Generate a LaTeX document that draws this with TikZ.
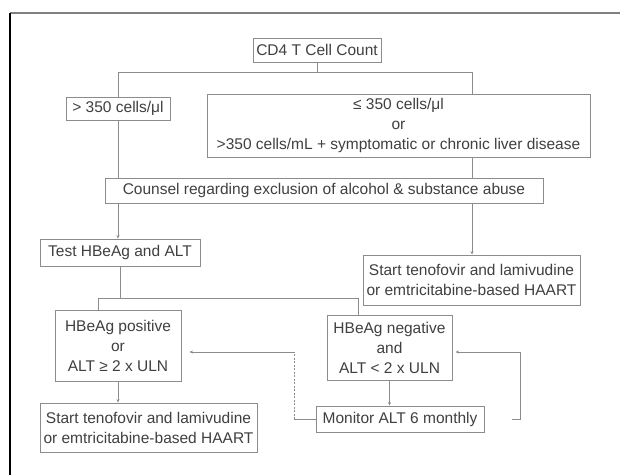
\documentclass[tikz,border=0pt]{standalone}
\usepackage{fontspec}
\setmainfont{Liberation Sans}
\usetikzlibrary{arrows.meta,calc}
\definecolor{linegray}{HTML}{8C8C8C}
\definecolor{txtgray}{HTML}{404040}
\begin{document}
\begin{tikzpicture}[x=1pt,y=-1pt,
  box/.style={draw=linegray,line width=0.9pt,inner sep=0pt,align=center,text=txtgray,font=\fontsize{15.5}{20}\selectfont},
  conn/.style={draw=linegray,line width=0.8pt},
  arr/.style={conn,-{Stealth[length=3.5pt,width=3pt]}},
  fb/.style={draw=linegray,line width=0.6pt},
  fbarr/.style={fb,-{Stealth[length=3.5pt,width=3pt]}}
]
\useasboundingbox (0,0) rectangle (620,475);
\fill[white] (0,0) rectangle (620,475);
\draw[line width=1.3pt, color=gray] (10,13) -- (620,13);
\draw[line width=1.3pt, black] (10,13) -- (10,475);

\coordinate (h1) at (0,72);
\coordinate (rc) at (472,0);
\coordinate (h2) at (0,298);
\coordinate (l2) at (98,0);
\coordinate (r2) at (358,0);
\coordinate (fy) at (0,352);
\coordinate (fl) at (294,0);
\coordinate (fr) at (520,0);

\node[box,minimum width=128,minimum height=24] (cd4) at (317,50) {CD4 T Cell Count};
\node[box,minimum width=104,minimum height=23] (gt) at (118,108.5) {> 350 cells/μl};
\node[box,minimum width=383,minimum height=63] (le) at (398.5,125.5) {≤ 350 cells/μl\\or\\>350 cells/mL + symptomatic or chronic liver disease};
\node[box,minimum width=438,minimum height=25] (cou) at (324,190.5) {Counsel regarding exclusion of alcohol \& substance abuse};
\node[box,minimum width=160,minimum height=27] (test) at (120,252.5) {Test HBeAg and ALT};
\node[box,minimum width=217,minimum height=50] (st1) at (471.5,280) {Start tenofovir and lamivudine\\or emtricitabine-based HAART};
\node[box,minimum width=126,minimum height=71] (pos) at (118,345.5) {HBeAg positive\\or\\ALT ≥ 2 x ULN};
\node[box,minimum width=125,minimum height=65] (neg) at (389.5,347.5) {HBeAg negative\\and\\ALT < 2 x ULN};
\node[box,minimum width=217,minimum height=49] (st2) at (148.5,427.5) {Start tenofovir and lamivudine\\or emtricitabine-based HAART};
\node[box,minimum width=168,minimum height=26] (mon) at (400,419) {Monitor ALT 6 monthly};

% top branch
\draw[conn] (cd4.south) -- (cd4.south |- h1);
\draw[conn] (gt.north) |- (rc |- h1) -- (rc |- le.north);
\draw[conn] (gt.south) -- (gt.south |- cou.north);
\draw[conn] (rc |- le.south) -- (rc |- cou.north);
\draw[arr] (gt.south |- cou.south) -- (gt.south |- test.north);
\draw[arr] (rc |- cou.south) -- (rc |- st1.north);

% second branch
\draw[conn] (test.south) -- (test.south |- h2);
\draw[conn] (l2 |- pos.north) |- (r2 |- h2) -- (r2 |- neg.north);
\draw[arr] (pos.south) -- (pos.south |- st2.north);
\draw[arr] (neg.south) -- (neg.south |- mon.north);

% feedback loops
\draw[fb] (mon.west) -- (fl |- mon.west);
\draw[fb,dash pattern=on 2pt off 1.5pt] (fl |- mon.west) -- (fl |- fy);
\draw[fbarr] (fl |- fy) -- ($(pos.east |- fy)+(8,0)$);
\draw[fbarr] ($(mon.east)+(28,0)$) -- (fr |- mon.east) -- (fr |- fy) -- ($(neg.east |- fy)+(3,0)$);
\end{tikzpicture}
\end{document}
